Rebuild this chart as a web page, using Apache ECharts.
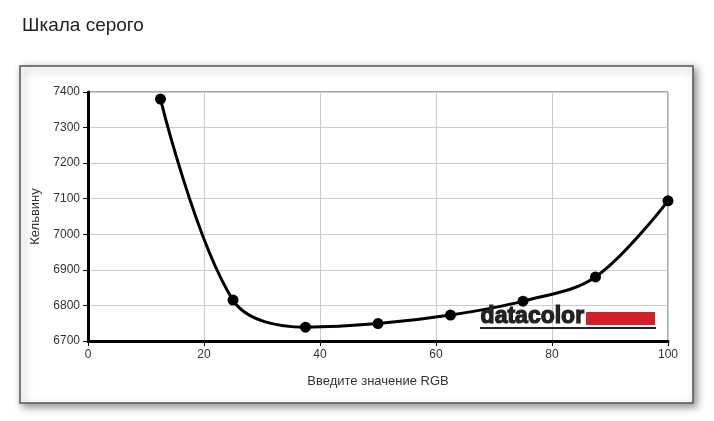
<!DOCTYPE html>
<html><head><meta charset="utf-8">
<script src="https://cdn.jsdelivr.net/npm/echarts@6/dist/echarts.min.js"></script>
<style>html,body{margin:0;padding:0;background:#fff;}#c{width:714px;height:421px;}</style>
</head><body><div id="c"></div>
<script>
const xValues = [12.5, 25, 37.5, 50, 62.5, 75, 87.5, 100];
const kelvin = [7380, 6815, 6739, 6749, 6773, 6812, 6880, 7094];
const xTicks = [0, 20, 40, 60, 80, 100];
const yTicks = [6700, 6800, 6900, 7000, 7100, 7200, 7300, 7400];
const titleText = 'Шкала серого';
const xName = 'Введите значение RGB';
const yName = 'Кельвину';
const logoText = 'datacolor';

const chart = echarts.init(document.getElementById('c'), null, {renderer: 'canvas'});
const font = 'Liberation Sans, Arial, sans-serif';
chart.setOption({
  animation: false,
  backgroundColor: '#fff',
  title: {text: titleText, left: 17, top: 11, textStyle: {fontFamily: font, fontSize: 19, fontWeight: 'normal', color: '#222'}},
  graphic: [
    {type: 'rect', z: -10, shape: {x: 20, y: 66, width: 673, height: 337},
     style: {fill: '#fff', stroke: '#555', lineWidth: 1.5, shadowBlur: 8, shadowOffsetX: 3, shadowOffsetY: 3, shadowColor: 'rgba(0,0,0,0.45)'}},
    {type: 'text', z: 50, left: 480, top: 305, style: {text: logoText, fontFamily: font, fontSize: 23, fontWeight: 'bold', fill: '#222', stroke: '#222', lineWidth: 1.2}},
    {type: 'rect', z: 50, shape: {x: 586, y: 312, width: 69, height: 13}, style: {fill: '#d2202a'}},
    {type: 'rect', z: 50, shape: {x: 480, y: 327, width: 176, height: 2}, style: {fill: '#222'}}
  ],
  grid: {left: 88, top: 92, width: 580, height: 249, show: true, borderColor: '#555', borderWidth: 1, backgroundColor: 'transparent'},
  xAxis: {
    type: 'value', min: xTicks[0], max: xTicks[xTicks.length-1], interval: 20,
    name: xName, nameLocation: 'middle', nameGap: 34,
    nameTextStyle: {fontFamily: font, fontSize: 13, color: '#333'},
    axisLine: {show: true, lineStyle: {color: '#000', width: 3}},
    axisTick: {show: true, length: 5, lineStyle: {color: '#000', width: 1}},
    axisLabel: {fontFamily: font, fontSize: 12, color: '#333', margin: 8},
    splitLine: {show: true, lineStyle: {color: '#ccc', width: 1}}
  },
  yAxis: {
    type: 'value', min: yTicks[0], max: yTicks[yTicks.length-1], interval: 100,
    name: yName, nameLocation: 'middle', nameGap: 43, nameRotate: 90,
    nameTextStyle: {fontFamily: font, fontSize: 13, color: '#333'},
    axisLine: {show: true, lineStyle: {color: '#000', width: 3}},
    axisTick: {show: true, length: 5, lineStyle: {color: '#000', width: 1}},
    axisLabel: {fontFamily: font, fontSize: 12, color: '#333', margin: 8, formatter: v => String(v)},
    splitLine: {show: true, lineStyle: {color: '#ccc', width: 1}}
  },
  series: [{
    type: 'line', data: xValues.map((x, i) => [x, kelvin[i]]),
    smooth: 0.35, symbol: 'circle', symbolSize: 11,
    lineStyle: {color: '#000', width: 3}, itemStyle: {color: '#000'}, z: 10
  }]
});
</script></body></html>
